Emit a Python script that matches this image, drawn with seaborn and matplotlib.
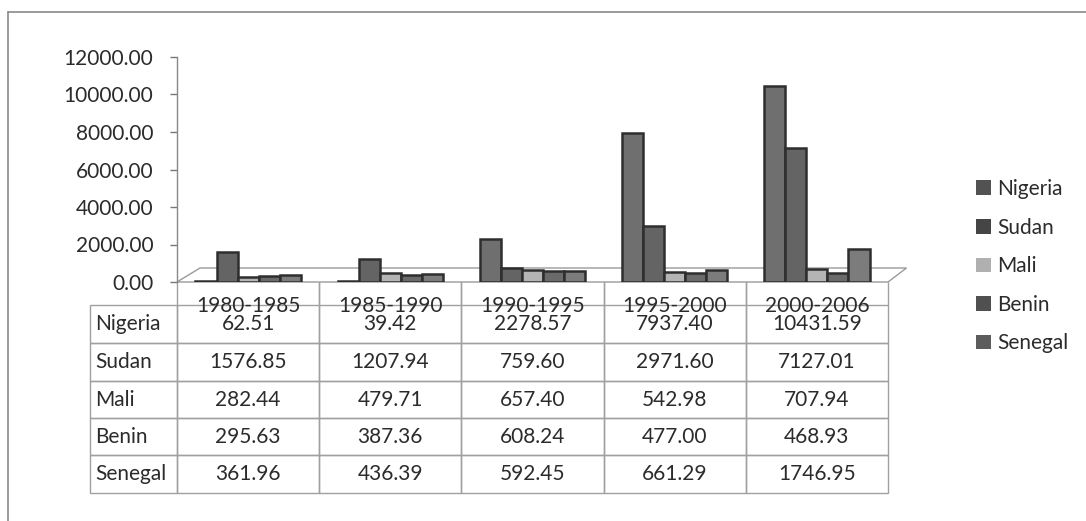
import matplotlib
matplotlib.use("Agg")
import matplotlib.pyplot as plt
from matplotlib.lines import Line2D
from matplotlib.patches import Patch, Polygon
import seaborn as sns
import pandas as pd

# ---- data -------------------------------------------------------------
periods = ["1980-1985", "1985-1990", "1990-1995", "1995-2000", "2000-2006"]
countries = ["Nigeria", "Sudan", "Mali", "Benin", "Senegal"]
nigeria = [62.51, 39.42, 2278.57, 7937.40, 10431.59]
sudan = [1576.85, 1207.94, 759.60, 2971.60, 7127.01]
mali = [282.44, 479.71, 657.40, 542.98, 707.94]
benin = [295.63, 387.36, 608.24, 477.00, 468.93]
senegal = [361.96, 436.39, 592.45, 661.29, 1746.95]
y_ticks = [0, 2000, 4000, 6000, 8000, 10000, 12000]

series = {"Nigeria": nigeria, "Sudan": sudan, "Mali": mali,
          "Benin": benin, "Senegal": senegal}
df = pd.DataFrame([
    {"period": p, "country": c, "value": v}
    for c in countries for p, v in zip(periods, series[c])
])

# ---- style ------------------------------------------------------------
sns.set_theme(style="white")
plt.rcParams["font.family"] = ["Lato", "DejaVu Sans"]
FS = 15
TXT = "#2b2b2b"
bar_colors = ["#6f6f6f", "#646464", "#b4b4b4", "#6a6a6a", "#7c7c7c"]
key_colors = ["#525252", "#454545", "#b0b0b0", "#505050", "#5c5c5c"]

W, H = 1086, 521
fig = plt.figure(figsize=(W / 100, H / 100), dpi=100)
fig.patch.set_facecolor("white")

# chart frame (top and left edges)
fig.add_artist(Line2D([8 / W, 1.0], [1 - 12 / H, 1 - 12 / H],
                      transform=fig.transFigure, color="#8a8a8a", lw=1.2))
fig.add_artist(Line2D([8 / W, 8 / W], [0, 1 - 12 / H],
                      transform=fig.transFigure, color="#8a8a8a", lw=1.2))

x0, x1, y_top, y_base = 177, 888, 57, 282
ax = fig.add_axes([x0 / W, 1 - y_base / H, (x1 - x0) / W, (y_base - y_top) / H])

sns.barplot(data=df, x="period", y="value", hue="country", order=periods,
            hue_order=countries, palette=bar_colors, width=0.74,
            edgecolor="#2e2e2e", linewidth=1.8, saturation=1, ax=ax,
            legend=False, zorder=3)

ax.set_xlim(-0.5, len(periods) - 0.5)
ax.set_ylim(0, 12000)
ax.set_yticks(y_ticks)
ax.set_yticklabels([f"{t:.2f}" for t in y_ticks], fontsize=FS, color=TXT)
ax.tick_params(axis="y", length=5, width=1, color="#777777", pad=12, left=True)
ax.tick_params(axis="x", length=0, pad=10, labelsize=FS, labelcolor=TXT)
ax.set_xlabel("")
ax.set_ylabel("")
for s in ["top", "right", "bottom"]:
    ax.spines[s].set_visible(False)
ax.spines["left"].set_color("#888888")
ax.spines["left"].set_linewidth(1)
ax.patch.set_alpha(0)

# perspective floor under the columns
dx = 23 / 142.2
dy = 14 * 12000 / 225
floor = Polygon([(-0.5, 0), (4.5, 0), (4.5 + 0.13, dy), (-0.5 + dx, dy)],
                closed=True, facecolor="white", edgecolor="#9a9a9a",
                lw=1, zorder=1, clip_on=False)
ax.add_patch(floor)

# ---- data table under the plot ----------------------------------------
cell_rows = [[""] * (len(periods) + 1)]
for c in countries:
    cell_rows.append([c] + [f"{v:.2f}" for v in series[c]])

label_w = 87 / (x1 - x0)
tbl_h = (493 - y_base) / (y_base - y_top)
tbl = ax.table(cellText=cell_rows, cellLoc="center",
               bbox=[-label_w, -tbl_h, 1 + label_w, tbl_h])
tbl.auto_set_font_size(False)
tbl.set_fontsize(FS)
row_px = [23, 38, 38, 37, 37, 38]
for (r, c), cell in tbl.get_celld().items():
    cell.set_height(row_px[r])
    cell.set_width(87 if c == 0 else 142.2)
    cell.set_edgecolor("#a0a0a0")
    cell.set_linewidth(1)
    cell.set_facecolor("none")
    cell.get_text().set_color(TXT)
    if c == 0:
        cell.PAD = 0.06
        cell.get_text().set_ha("left")
    if r == 0:
        cell.visible_edges = "" if c == 0 else "LR"

# ---- legend -----------------------------------------------------------
handles = [Patch(facecolor=k, edgecolor="none", label=c)
           for c, k in zip(countries, key_colors)]
fig.legend(handles=handles, loc="upper left",
           bbox_to_anchor=(976 / W, 1 - 179 / H), frameon=False,
           fontsize=FS, handlelength=0.7, handleheight=0.7,
           handletextpad=0.32, labelspacing=0.89, borderpad=0,
           borderaxespad=0, labelcolor=TXT)

fig.savefig("out.png", dpi=100, facecolor="white")
